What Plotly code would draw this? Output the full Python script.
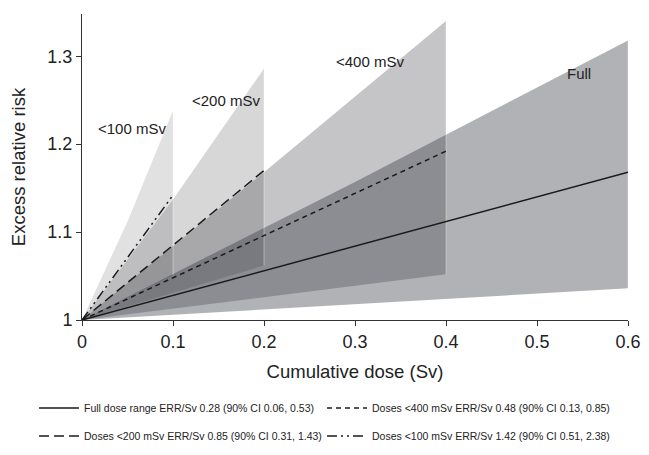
import plotly.graph_objects as go

# ---- data ----
band_names = ["Full", "<400 mSv", "<200 mSv", "<100 mSv"]
band_max_dose = [0.6, 0.4, 0.2, 0.1]           # Sv, right end of each band
central_end = [1.168, 1.192, 1.170, 1.142]     # ERR line value at right end
lower_end = [1.036, 1.052, 1.062, 1.051]       # lower CI at right end
upper_mid = [1.157, 1.168, 1.137, 1.112]       # upper CI at half the max dose
upper_end = [1.318, 1.340, 1.286, 1.238]       # upper CI at right end

legend_text = [
    "Full dose range ERR/Sv 0.28 (90% CI 0.06, 0.53)",
    "Doses <400 mSv ERR/Sv 0.48 (90% CI 0.13, 0.85)",
    "Doses <200 mSv ERR/Sv 0.85 (90% CI 0.31, 1.43)",
    "Doses <100 mSv ERR/Sv 1.42 (90% CI 0.51, 2.38)",
]
label_x = [0.546, 0.316, 0.158, 0.055]
label_y = [1.28, 1.294, 1.25, 1.218]

x_ticks = [0, 0.1, 0.2, 0.3, 0.4, 0.5, 0.6]
x_ticktext = ["0", "0.1", "0.2", "0.3", "0.4", "0.5", "0.6"]
y_ticks = [1.0, 1.1, 1.2, 1.3]
y_ticktext = ["1", "1.1", "1.2", "1.3"]

# ---- styles ----
band_alpha = [0.36, 0.27, 0.19, 0.14]
dashes = ["solid", "5px,4px", "10px,5px", "10px,4px,2px,4px,2px,4px"]
legend_ids = ["legend", "legend2", "legend3", "legend4"]
legend_pos = [(0.0406, 0.1051), (0.4899, 0.1051), (0.0406, 0.0425), (0.4899, 0.0425)]
FONT = "Liberation Sans, Arial, Helvetica, sans-serif"

fig = go.Figure()

for i in range(4):
    xe = band_max_dose[i]
    fig.add_trace(go.Scatter(
        x=[0, xe / 2, xe, xe, 0],
        y=[1, upper_mid[i], upper_end[i], lower_end[i], 1],
        fill="toself", mode="lines", line=dict(width=0),
        fillcolor=f"rgba(40,42,50,{band_alpha[i]})",
        showlegend=False, hoverinfo="skip"))
    fig.add_trace(go.Scatter(
        x=[xe, xe], y=[lower_end[i], upper_end[i]], mode="lines",
        line=dict(color="rgba(255,255,255,0.35)", width=1),
        showlegend=False, hoverinfo="skip"))

for i in range(4):
    fig.add_trace(go.Scatter(
        x=[0, band_max_dose[i]], y=[1, central_end[i]], mode="lines",
        line=dict(color="#1a1a1a", width=1.5, dash=dashes[i]),
        name=legend_text[i], legend=legend_ids[i]))

for i in range(4):
    fig.add_annotation(x=label_x[i], y=label_y[i], text=band_names[i],
                       showarrow=False, font=dict(size=15, color="#222", family=FONT))

axis_common = dict(showline=True, linecolor="#333", linewidth=1, ticks="outside",
                   ticklen=5, tickcolor="#333", showgrid=False, zeroline=False,
                   tickfont=dict(size=18, color="#222", family=FONT))

fig.update_xaxes(range=[0, 0.6], tickvals=x_ticks, ticktext=x_ticktext,
                 title=dict(text="Cumulative dose (Sv)", standoff=14,
                            font=dict(size=18.5, color="#222", family=FONT)),
                 **axis_common)
fig.update_yaxes(range=[1, 1.348], tickvals=y_ticks, ticktext=y_ticktext,
                 title=dict(text="Excess relative risk", standoff=17,
                            font=dict(size=18.5, color="#222", family=FONT)),
                 **axis_common)

legends = {}
for i in range(4):
    legends[legend_ids[i]] = dict(
        orientation="h", itemwidth=40, xref="container", yref="container",
        x=legend_pos[i][0], y=legend_pos[i][1], xanchor="left", yanchor="middle",
        font=dict(size=10.5, color="#222", family=FONT), bgcolor="rgba(0,0,0,0)")

# page body adds an 8px offset, so the figure is 8px smaller and margins shifted
fig.update_layout(
    width=641, height=447,
    margin=dict(l=74, r=21, t=6, b=135),
    plot_bgcolor="white", paper_bgcolor="white",
    font=dict(family=FONT),
    **legends,
)

fig.write_html("out.html")
